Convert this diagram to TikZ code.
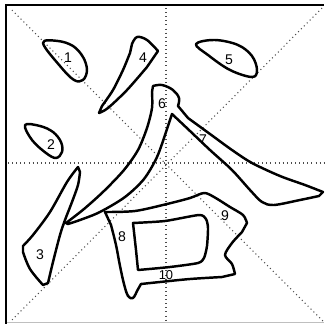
\documentclass[tikz,border=0pt]{standalone}
\usepackage{fontspec}
\setmainfont{Liberation Sans}
\begin{document}
\begin{tikzpicture}[
    x=0.03cm, y=-0.03cm,
    frameline/.style={black, line width=1.6pt},
    faintline/.style={black!25, line width=0.8pt},
    guide/.style={black!70, line width=0.9pt, dash pattern=on 0.9pt off 2.6pt},
    strokeshape/.style={draw, black, line width=2.1pt, line join=round},
    num/.style={font=\fontsize{12}{12}\selectfont, inner sep=0pt}
]
\useasboundingbox (0,0) rectangle (324,324);
% Frame
\draw[faintline] (6,322) -- (324,322);
\draw[frameline] (6,324) -- (6,5) -- (324,5);
% Guide lines
\draw[guide] (12,10) -- (324,322);
\draw[guide] (322,8) -- (12,320);
\draw[guide] (8,163) -- (324,163);
\draw[guide] (166,8) -- (166,322);
% Stroke 1
\draw[strokeshape] plot[smooth cycle, tension=0.6] coordinates {
    (43,43) (58,41) (73,46) (83,57) (87,70) (83,80) (74,80) (60,66)};
% Stroke 2
\draw[strokeshape] plot[smooth cycle, tension=0.6] coordinates {
    (25,125) (40,126) (53,132) (61,142) (62,152) (56,158) (46,153) (32,140)};
% Stroke 3
\draw[strokeshape] plot[smooth, tension=0.5] coordinates {
    (78,167) (67,182) (50,212) (33,235) (23,246)}
    -- plot[smooth, tension=0.6] coordinates {(23,252) (30,269) (43,285)}
    -- plot[smooth, tension=0.5] coordinates {
    (48,283) (53,262) (60,235) (65,220) (72,202) (78,185) (80,172)} -- cycle;
% Stroke 4
\draw[strokeshape] plot[smooth, tension=0.6] coordinates {
    (132,44) (137,37) (147,40) (158,51)}
    -- plot[smooth, tension=0.5] coordinates {
    (147,67) (127,90) (108,108) (99,113)}
    -- plot[smooth, tension=0.5] coordinates {
    (102,106) (113,90) (123,70) (130,53)} -- cycle;
% Stroke 5
\draw[strokeshape] plot[smooth cycle, tension=0.6] coordinates {
    (196,44) (215,40) (238,45) (252,56) (257,70) (252,77) (230,70) (208,55)};
% Strokes 6 and 7
\draw[strokeshape] plot[smooth, tension=0.5] coordinates {
    (66,223) (84,209) (104,191) (124,170) (138,150) (147,128) (152,108) (152,92)}
    -- plot[smooth, tension=0.6] coordinates {
    (153,86) (162,85) (173,90) (179,98) (178,106)}
    -- plot[smooth, tension=0.5] coordinates {
    (188,118) (210,134) (232,150) (252,163) (280,176) (305,185) (323,192)}
    -- plot[smooth, tension=0.5] coordinates {
    (319,196) (300,200) (274,205) (262,202) (250,190) (232,170) (210,150) (190,131) (172,114)}
    -- plot[smooth, tension=0.5] coordinates {
    (166,132) (157,157) (144,179) (125,197) (100,212) (80,220) (68,224)} -- cycle;
% Strokes 8, 9 and 10
\draw[strokeshape] plot[smooth, tension=0.5] coordinates {
    (105,212) (135,211) (167,204) (190,198) (204,193) (214,197) (230,207) (243,215) (247,223)}
    -- plot[smooth, tension=0.5] coordinates {
    (242,232) (232,243) (225,255) (232,264) (235,274)}
    -- plot[smooth, tension=0.5] coordinates {
    (222,277) (190,279) (160,282) (141,284)}
    -- plot[smooth, tension=0.6] coordinates {
    (137,291) (133,298) (128,296) (124,284) (120,266) (116,245) (111,225)} -- cycle;
\draw[strokeshape] plot[smooth, tension=0.4] coordinates {
    (133,223) (165,221) (199,215) (206,219) (208,228) (207,246) (204,258) (198,263) (170,267) (138,270)}
    -- (136,250) -- cycle;
% Stroke numbers
\node[num] (n1) at (68,58) {1};
\node[num] (n2) at (51,145) {2};
\node[num] (n3) at (40,255) {3};
\node[num] (n4) at (143,58) {4};
\node[num] (n5) at (229,60) {5};
\node[num] (n6) at (162,104) {6};
\node[num] (n7) at (203,140) {7};
\node[num] (n8) at (122,237) {8};
\node[num] (n9) at (225,216) {9};
\node[num, font=\fontsize{11}{11}\selectfont] (n10) at (166,275) {10};
\end{tikzpicture}
\end{document}
